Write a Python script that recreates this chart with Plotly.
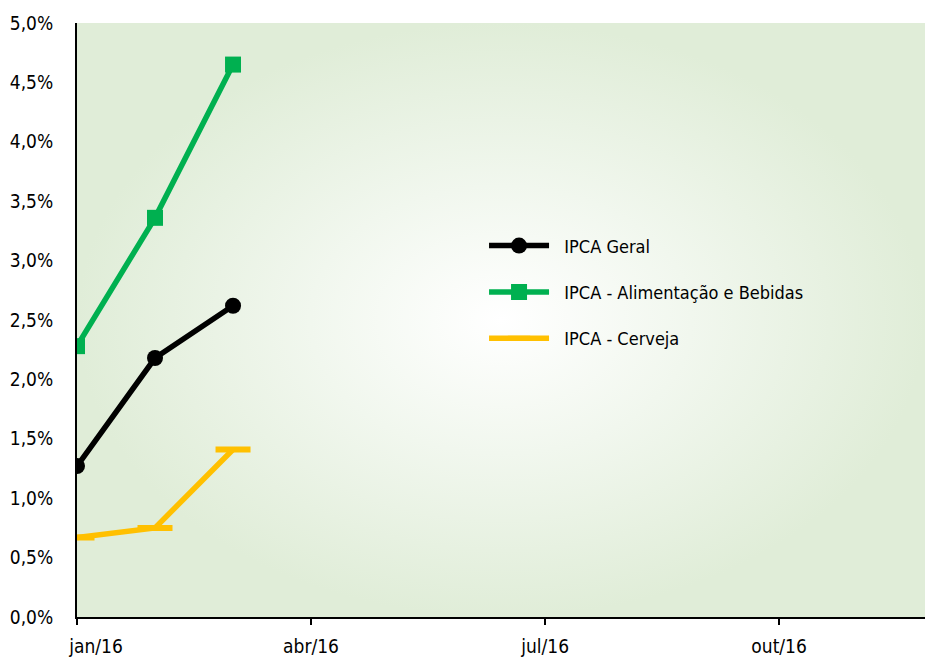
import plotly.graph_objects as go

months = ["jan/16", "fev/16", "mar/16", "abr/16", "mai/16", "jun/16",
          "jul/16", "ago/16", "set/16", "out/16", "nov/16", "dez/16"]
geral = [1.27, 2.18, 2.62]
alimentacao = [2.28, 3.36, 4.65]
cerveja = [0.67, 0.75, 1.41]
y_ticks = [0.0, 0.5, 1.0, 1.5, 2.0, 2.5, 3.0, 3.5, 4.0, 4.5, 5.0]
x_tick_months = ["jan/16", "abr/16", "jul/16", "out/16"]
series_names = ["IPCA Geral", "IPCA - Alimentação e Bebidas", "IPCA - Cerveja"]

FONT = "DejaVu Sans Condensed"
x_idx = list(range(len(months)))
x_max = 10.87
pad = "\u00a0\u00a0"

fig = go.Figure()

# background radial gradient
fig.add_trace(go.Scatter(
    x=[0, x_max, x_max, 0, 0], y=[0, 0, 5, 5, 0],
    fill="toself", mode="none", hoverinfo="skip", showlegend=False,
    fillgradient=dict(type="radial",
                      colorscale=[[0, "#ffffff"], [0.45, "#f1f7ee"], [1, "#e0edd8"]]),
))

fig.add_trace(go.Scatter(
    x=x_idx[:len(geral)], y=geral, name=pad + series_names[0], legendgroup="a",
    mode="lines+markers", line=dict(color="#000000", width=5.5),
    marker=dict(symbol="circle", size=16, color="#000000"),
))
fig.add_trace(go.Scatter(
    x=x_idx[:len(alimentacao)], y=alimentacao, name=pad + series_names[1],
    legendgroup="b",
    mode="lines+markers", line=dict(color="#00b050", width=5.5),
    marker=dict(symbol="square", size=16, color="#00b050"),
))
fig.add_trace(go.Scatter(
    x=x_idx[:len(cerveja)], y=cerveja, name=pad + series_names[2], legendgroup="c",
    mode="lines+markers", line=dict(color="#ffc000", width=5.5),
    marker=dict(symbol="line-ew", size=25, color="#ffc000",
                line=dict(color="#ffc000", width=6)),
))

x_text = [("\u00a0" * 7 + m) if m == "jan/16" else m for m in x_tick_months]

fig.update_layout(
    width=925, height=660,
    margin=dict(l=77, r=0, t=23, b=43),
    paper_bgcolor="#ffffff", plot_bgcolor="#e0edd8",
    font=dict(family=FONT, size=19, color="#000000"),
    showlegend=True,
    legend=dict(x=0.48, y=0.656, xanchor="left", yanchor="top",
                bgcolor="rgba(0,0,0,0)", tracegroupgap=20, itemwidth=60,
                font=dict(family=FONT, size=18)),
    xaxis=dict(range=[0, x_max], tickvals=[months.index(m) for m in x_tick_months],
               ticktext=x_text, showgrid=False, zeroline=False,
               showline=True, linecolor="#000000", linewidth=2,
               ticks="outside", ticklen=6, tickwidth=1.5, tickcolor="#000000",
               ticklabelstandoff=5),
    yaxis=dict(range=[0, 5], tickvals=y_ticks,
               ticktext=[f"{v:.1f}%".replace(".", ",") for v in y_ticks],
               showgrid=False, zeroline=False, showline=True,
               linecolor="#000000", linewidth=2, ticks="",
               ticklabelstandoff=18),
)

fig.write_html("out.html", config={"displayModeBar": False},
               post_script="document.body.style.margin='0';"
               "document.body.style.overflow='hidden';window.dispatchEvent(new Event('resize'));")
